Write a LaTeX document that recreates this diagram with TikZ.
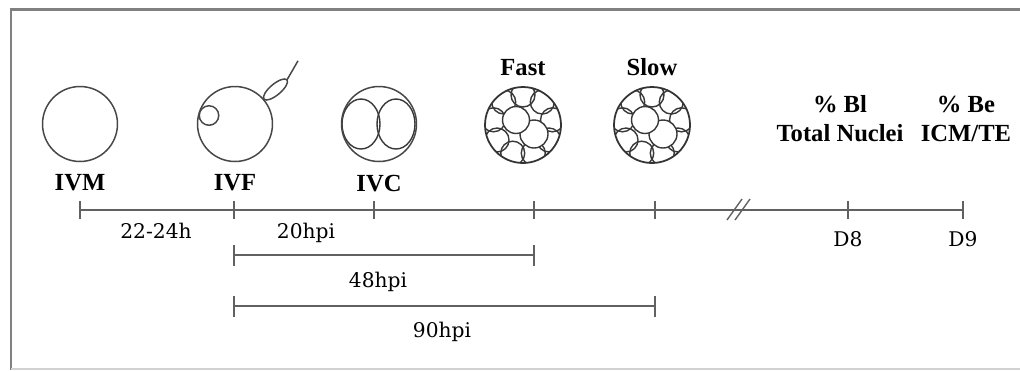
\documentclass[tikz,border=0pt]{standalone}
\usepackage{fontspec}
\setmainfont{Liberation Serif}
\newfontfamily\spanfont{DejaVu Serif}
\usepackage{tikz}
\usetikzlibrary{shapes, shapes.geometric, calc, positioning}

\begin{document}
\begin{tikzpicture}[x=0.02cm, y=0.02cm,
    stage/.style={font=\fontsize{14}{16.5}\selectfont\bfseries, align=center, inner sep=0pt},
    span/.style={font=\spanfont\fontsize{11.5}{13}\selectfont, inner sep=0pt, anchor=base},
    cell/.style={draw=black!72, line width=0.85pt, circle, inner sep=0pt, outer sep=0pt},
    blast/.style={draw=black!78, line width=0.8pt, fill=white},
    axis/.style={draw=black!62, line width=1.1pt}]
    \useasboundingbox (0,0) rectangle (1020,-370);
    \draw[black!50, line width=1.7pt] (1020,-9.5) -- (11,-9.5) -- (11,-370);
    \draw[black!18, line width=0.8pt] (11,-369) -- (1020,-369);

    % time axis
    \draw[axis] (80,-210) -- (963,-210);
    \foreach \x/\n in {80/ivm, 234/ivf, 374/ivc, 534/fast, 655/slow, 848/d8, 963/d9} {
        \coordinate (t-\n) at (\x,-210);
        \draw[axis] ($(t-\n)+(0,9)$) -- ($(t-\n)+(0,-9)$);
    };
    \coordinate (brk) at (738,-210);
    \draw[axis, line width=0.8pt] ($(brk)+(-11,-10)$) -- ($(brk)+(4,11)$);
    \draw[axis, line width=0.8pt] ($(brk)+(-3,-10)$) -- ($(brk)+(12,11)$);

    % oocyte and embryos
    \node[cell, minimum size=1.5cm] at (80,-124) (ivm) {};
    \node[cell, minimum size=1.5cm] at (235,-124) (ivf) {};
    \node[cell, minimum size=0.39cm] at (209,-115.5) (polar) {};
    \node[cell, ellipse, minimum width=0.6cm, minimum height=0.22cm, rotate=40] at (275.5,-89.5) (sperm) {};
    \draw[cell] (sperm.east) -- ++(60:22);

    \begin{scope}
        \clip (379,-124) circle (37.5);
        \draw[blast] (361,-124) ellipse [x radius=19, y radius=25];
        \draw[blast, fill=none] (396,-124) ellipse [x radius=19, y radius=25];
    \end{scope}
    \node[cell, minimum size=1.5cm] at (379,-124) (ivc) {};

    \foreach \n/\cx in {fast/523, slow/652} {
        \begin{scope}[shift={(\cx,-125)}]
            \clip (0,0) circle (37.5);
            \foreach \a in {10,50,...,330}
                \draw[blast, fill=none] (\a:30) circle (12);
            \draw[blast] (11,-9) circle (14);
            \draw[blast] (-7,5) circle (13.5);
        \end{scope}
        \node[cell, draw=black!80, line width=1pt, minimum size=1.52cm] at (\cx,-125) (\n) {};
    };

    % stage labels
    \node[stage, below=0.26cm of ivm] (ivm-lab) {IVM};
    \node[stage, below=0.26cm of ivf] (ivf-lab) {IVF};
    \node[stage, below=0.26cm of ivc] (ivc-lab) {IVC};
    \node[stage, above=0.22cm of fast] (fast-lab) {Fast};
    \node[stage, above=0.22cm of slow] (slow-lab) {Slow};
    \node[stage] at (840,-119) (d8-lab) {\% Bl\\Total Nuclei};
    \node[stage] at (966,-119) (d9-lab) {\% Be\\ICM/TE};

    % intervals
    \coordinate (h48a) at (234,-255);
    \coordinate (h48b) at (534,-255);
    \coordinate (h90a) at (234,-306);
    \coordinate (h90b) at (655,-306);
    \draw[axis] (h48a) -- (h48b);
    \draw[axis] (h90a) -- (h90b);
    \foreach \c in {h48a, h48b, h90a, h90b}
        \draw[axis] ($(\c)+(0,10)$) -- ($(\c)+(0,-11)$);

    \node[span] at (156,-238) (s-ivm) {22-24h};
    \node[span] at (306,-238) (s-ivf) {20hpi};
    \node[span] at (378,-287) (s-48) {48hpi};
    \node[span] at (442,-337) (s-90) {90hpi};
    \node[span] at (848,-246) (s-d8) {D8};
    \node[span] at (963,-246) (s-d9) {D9};
\end{tikzpicture}
\end{document}
